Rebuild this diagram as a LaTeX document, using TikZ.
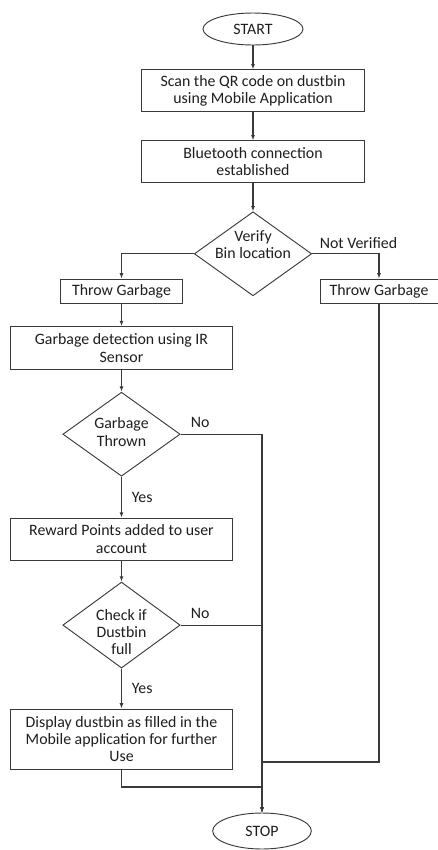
\documentclass[tikz,border=0pt]{standalone}
\usepackage{fontspec}
\setmainfont{Carlito}
\usepackage{tikz}
\usetikzlibrary{shapes.geometric, arrows.meta, positioning}
\definecolor{linec}{HTML}{3A3A3A}
\definecolor{textc}{HTML}{1E1E1E}

\begin{document}
\begin{tikzpicture}[
    x=0.75pt, y=-0.75pt,
    font=\fontsize{11.9}{13}\selectfont, text=textc,
    n/.style={rectangle, draw=linec, line width=0.7pt, minimum width=167pt,
              minimum height=31.5pt, align=center, inner sep=2pt},
    sn/.style={rectangle, draw=linec, line width=0.7pt, minimum height=18pt,
               align=center, inner sep=2pt},
    term/.style={ellipse, draw=linec, line width=0.7pt, minimum width=75pt, minimum height=24pt},
    dec/.style={diamond, draw=linec, line width=0.7pt, minimum width=88pt,
                minimum height=63pt, inner sep=0pt},
    t/.style={align=center, inner sep=0pt},
    l/.style={text=textc, font=\fontsize{11.9}{13}\selectfont},
    e/.style={-{Latex[length=4pt, width=3pt]}, line width=0.8pt, color=linec}
]
\useasboundingbox (0,0) rectangle (438,850);

\node[term] (start) at (253,29) {START};
\node[n, below=18pt of start] (scan) {Scan the QR code on dustbin\\using Mobile Application};
\node[n, below=21pt of scan] (bt) {Bluetooth connection\\established};
\node[dec, below=21pt of bt] (verify) {};
\node[t] (verifytxt) at ([yshift=6.75pt]verify) {Verify\\Bin location};

\node[sn, minimum width=92pt] (tg1) at (121.5,291) {Throw Garbage};
\node[sn, minimum width=88.5pt] (tg2) at (379,291) {Throw Garbage};

\node[n, minimum height=32pt, below=17pt of tg1] (detect) {Garbage detection using IR\\Sensor};
\node[dec, below=16.5pt of detect] (thrown) {};
\node[t] (throwntxt) at ([yshift=1.5pt]thrown) {Garbage\\Thrown};
\node[n, below=30.75pt of thrown] (reward) {Reward Points added to user\\account};
\node[dec, minimum height=64.5pt, below=15.75pt of reward] (check) {};
\node[t] (checktxt) at ([yshift=-5.25pt]check) {Check if\\Dustbin\\full};
\node[n, minimum height=45pt, below=30pt of check] (disp)
    {Display dustbin as filled in the\\Mobile application for further\\Use};

\node[term, minimum height=27pt, minimum width=74pt] (stop) at (262,831) {STOP};
\coordinate (jr) at (262,762);
\coordinate (jd) at (262,787);

\draw[e] (start) -- (scan);
\draw[e] (scan) -- (bt);
\draw[e] (bt) -- (verify);
\draw[e] (verify.west) -| (tg1.north);
\draw[e] (verify.east) -| node[l, pos=0, above right, xshift=2pt] {Not Verified} (tg2.north);
\draw[e] (tg1) -- (detect);
\draw[e] (detect) -- (thrown);
\draw[e] (thrown) -- node[l, right, xshift=4pt] {Yes} (reward);
\draw[e] (reward) -- (check);
\draw[e] (check) -- node[l, right, xshift=4pt] {Yes} (disp);
\draw[e] (thrown.east) -| node[l, pos=0, above right, xshift=4pt, yshift=1pt] {No} (stop.north);
\draw[e] (check.east) -| node[l, pos=0, above right, xshift=4pt, yshift=1pt] {No} (stop.north);
\draw[e] (disp.south) |- (jd) -- (stop.north);
\draw[e] (tg2.south) |- (jr) -- (stop.north);
\end{tikzpicture}
\end{document}
